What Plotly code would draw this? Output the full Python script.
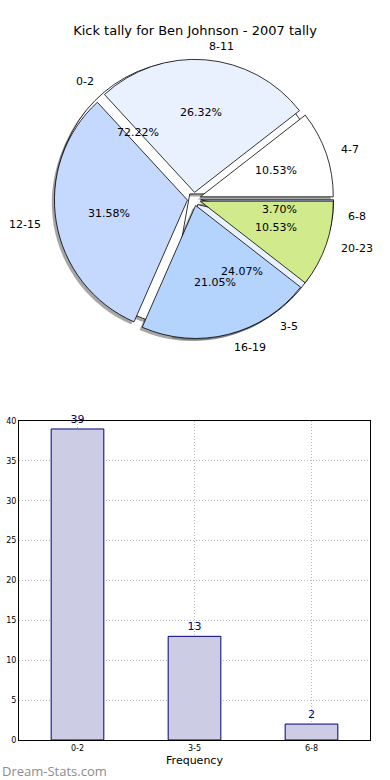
import math
import plotly.graph_objects as go

# ---------------- data ----------------
title_text = "Kick tally for Ben Johnson - 2007 tally"

pie1_labels = ["0-2", "3-5", "6-8"]
pie1_values = [39, 13, 2]
pie1_colors = ["#ffffff", "#eaf1fe", "#c4d8fe"]

pie2_labels = ["4-7", "8-11", "12-15", "16-19", "20-23"]
pie2_values = [2, 5, 6, 4, 2]
pie2_colors = ["#ffffff", "#eaf1fe", "#c5d9ff", "#b4d4fe", "#d0ea8c"]

bar_categories = ["0-2", "3-5", "6-8"]
bar_values = [39, 13, 2]
y_ticks = [0, 5, 10, 15, 20, 25, 30, 35, 40]

# ---------------- geometry ----------------
W, H = 390, 780
CX, CY, R = 194, 199, 133
PULL = 0.05
SHADOW = 0.02
FONT = "DejaVu Sans"


def pie_domain(dx=0.0, dy=0.0):
    half = R * (1 + PULL)
    return dict(
        x=[(CX + dx - half) / W, (CX + dx + half) / W],
        y=[1 - (CY + dy + half) / H, 1 - (CY + dy - half) / H],
    )


def rotation_for(values):
    # plotly counterclockwise: first slice ends at `rotation`; we want it to start at 3 o'clock
    return 90 - 360.0 * values[0] / sum(values)


fig = go.Figure()

# shadows (drawn below all wedges)
for vals in (pie1_values, pie2_values):
    fig.add_trace(go.Pie(
        values=vals, sort=False, direction="counterclockwise",
        rotation=rotation_for(vals), pull=[PULL] * len(vals),
        domain=pie_domain(-SHADOW * R, SHADOW * R),
        marker=dict(colors=["rgba(77,77,77,0.5)"] * len(vals), line=dict(width=0)),
        textinfo="none", hoverinfo="skip", showlegend=False,
    ))

for labels, vals, cols in ((pie1_labels, pie1_values, pie1_colors),
                           (pie2_labels, pie2_values, pie2_colors)):
    fig.add_trace(go.Pie(
        labels=labels, values=vals, sort=False, direction="counterclockwise",
        rotation=rotation_for(vals), pull=[PULL] * len(vals),
        domain=pie_domain(),
        marker=dict(colors=cols, line=dict(color="#000000", width=0.8)),
        textinfo="none", showlegend=False,
    ))

annotations = []
for labels, vals in ((pie1_labels, pie1_values), (pie2_labels, pie2_values)):
    total = float(sum(vals))
    start = 0.0
    for lab, v in zip(labels, vals):
        span = 360.0 * v / total
        mid = math.radians(start + span / 2)
        start += span
        ux, uy = math.cos(mid), math.sin(mid)
        ex, ey = CX + PULL * R * ux, CY - PULL * R * uy
        lx, ly = ex + 1.1 * R * ux, ey - 1.1 * R * uy
        px, py = ex + 0.6 * R * ux, ey - 0.6 * R * uy
        annotations.append(dict(
            x=lx / W, y=1 - ly / H, xref="paper", yref="paper", text=lab,
            showarrow=False, xanchor="left" if ux > 0 else "right", yanchor="middle",
            font=dict(family=FONT, size=11, color="#000000")))
        annotations.append(dict(
            x=px / W, y=1 - py / H, xref="paper", yref="paper",
            text="%1.2f%%" % (100.0 * v / total),
            showarrow=False, xanchor="center", yanchor="middle",
            font=dict(family=FONT, size=11, color="#000000")))

annotations.append(dict(
    x=0, y=1 - 771 / H, xref="paper", yref="paper", text="Dream-Stats.com",
    showarrow=False, xanchor="left", yanchor="middle",
    font=dict(family="Open Sans", size=13, color="#8c8c8c")))

fig.add_trace(go.Bar(
    x=bar_categories, y=bar_values, width=0.45,
    marker=dict(color="#ccccE4", line=dict(color="#000080", width=1)),
    text=bar_values, textposition="outside", cliponaxis=False,
    textfont=dict(family=FONT, size=11, color="#000080"),
    showlegend=False,
))

axis_common = dict(
    showgrid=True, gridcolor="#b8b8b8", gridwidth=1, griddash="1px,2px",
    showline=True, linecolor="#000000", linewidth=1, mirror=True,
    ticks="", zeroline=False, automargin=False,
    tickfont=dict(family=FONT, size=8, color="#000000"),
)

fig.update_layout(
    width=W, height=H, autosize=False,
    margin=dict(l=0, r=0, t=0, b=0, pad=0),
    paper_bgcolor="#ffffff", plot_bgcolor="#ffffff",
    title=dict(text=title_text, x=0.5, xanchor="center", y=1 - 30 / H, yanchor="middle",
               font=dict(family=FONT, size=13, color="#000000")),
    xaxis=dict(domain=[19 / W, 370 / W], range=[-0.5, 2.5], type="category",
               title=dict(text="Frequency", standoff=4,
                          font=dict(family=FONT, size=11, color="#000000")),
               **axis_common),
    yaxis=dict(domain=[40 / H, 359 / H], range=[0, 40], tickvals=y_ticks,
               **axis_common),
    annotations=annotations,
)

fig.write_html("out.html", config={"displayModeBar": False},
               post_script="document.body.style.margin='0px';")
